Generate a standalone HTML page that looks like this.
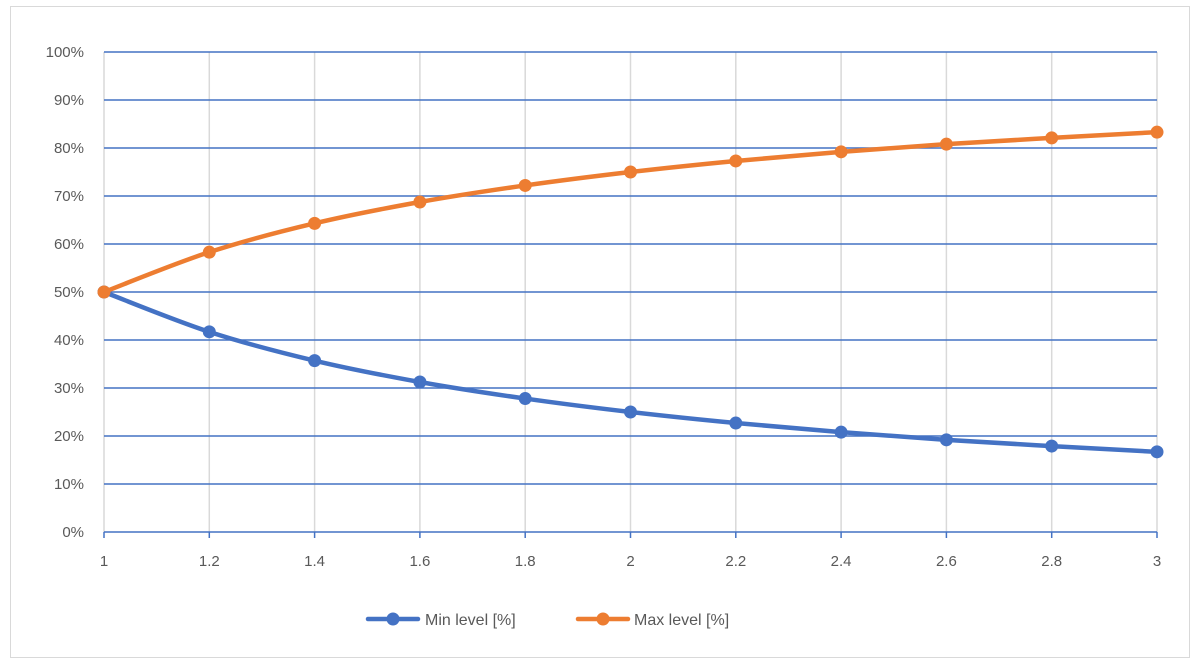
<!DOCTYPE html>
<html><head><meta charset="utf-8"><style>
body{margin:0;background:#fff;}
svg{display:block;font-family:"Liberation Sans",sans-serif;}
</style></head><body>
<svg id="c" width="1200" height="666">
<rect x="10.5" y="6.5" width="1179" height="651" fill="#fff" stroke="#d9d9d9"/>
<g id="grid"></g><g id="series"></g>
<g>
<g>
<line x1="368" y1="619" x2="418" y2="619" stroke="#4472C4" stroke-width="4.5" stroke-linecap="round"/>
<circle cx="393" cy="619" r="6.5" fill="#4472C4"/>
<text x="425" y="625" font-size="16" fill="#595959">Min level [%]</text></g>
<g>
<line x1="578" y1="619" x2="628" y2="619" stroke="#ED7D31" stroke-width="4.5" stroke-linecap="round"/>
<circle cx="603" cy="619" r="6.5" fill="#ED7D31"/>
<text x="634" y="625" font-size="16" fill="#595959">Max level [%]</text></g>
</g>
</svg>
<script>
const categories=[1,1.2,1.4,1.6,1.8,2,2.2,2.4,2.6,2.8,3];
const xLabels=["1","1.2","1.4","1.6","1.8","2","2.2","2.4","2.6","2.8","3"];
const minLevel=[50,41.7,35.7,31.25,27.8,25,22.7,20.8,19.2,17.9,16.7];
const maxLevel=[50,58.3,64.3,68.75,72.2,75,77.3,79.2,80.8,82.1,83.3];
const yTicks=[0,10,20,30,40,50,60,70,80,90,100];
const NS="http://www.w3.org/2000/svg";
const X0=104,X1=1157,Y0=532,Y1=52;
const xs=v=>X0+(v-1)/(3-1)*(X1-X0);
const ys=v=>Y0-v/100*(Y0-Y1);
function mk(t,a,p){const e=document.createElementNS(NS,t);for(const k in a)e.setAttribute(k,a[k]);p.appendChild(e);return e;}
const g=document.getElementById('grid');
categories.forEach((c,i)=>{
 const l=mk('line',{x1:xs(c),x2:xs(c),y1:Y1,y2:Y0,stroke:'#d9d9d9','stroke-width':1.5},g);
 
 
 const tk=mk('line',{x1:xs(c),x2:xs(c),y1:Y0,y2:Y0+6,stroke:'#4472C4','stroke-width':1.5},g);
 
 
 const t=mk('text',{x:xs(c),y:Y0+34,'text-anchor':'middle','font-size':15,fill:'#595959'},g);
 t.textContent=xLabels[i];
 
 
});
yTicks.forEach(v=>{
 const l=mk('line',{x1:X0,x2:X1,y1:ys(v),y2:ys(v),stroke:'#4472C4','stroke-width':1.6},g);
 
 
 const t=mk('text',{x:84,y:ys(v)+5,'text-anchor':'end','font-size':15,fill:'#595959'},g);
 t.textContent=v+'%';
 
 
});
const s=document.getElementById('series');
function smooth(pts){let d='M'+pts[0][0]+','+pts[0][1];
 for(let i=0;i<pts.length-1;i++){const p0=pts[i-1]||pts[i],p1=pts[i],p2=pts[i+1],p3=pts[i+2]||p2;
 d+=' C'+(p1[0]+(p2[0]-p0[0])/6)+','+(p1[1]+(p2[1]-p0[1])/6)+' '+(p2[0]-(p3[0]-p1[0])/6)+','+(p2[1]-(p3[1]-p1[1])/6)+' '+p2[0]+','+p2[1];}
 return d;}
[[minLevel,'#4472C4','min-level'],[maxLevel,'#ED7D31','max-level']].forEach(([data,col,nm])=>{
 const pts=data.map((v,i)=>[xs(categories[i]),ys(v)]);
 const p=mk('path',{d:smooth(pts),fill:'none',stroke:col,'stroke-width':4.5,'stroke-linecap':'round'},s);
 
 
 pts.forEach(q=>{const c=mk('circle',{cx:q[0],cy:q[1],r:6.5,fill:col},s);
  
  });
});
</script>
</body></html>
